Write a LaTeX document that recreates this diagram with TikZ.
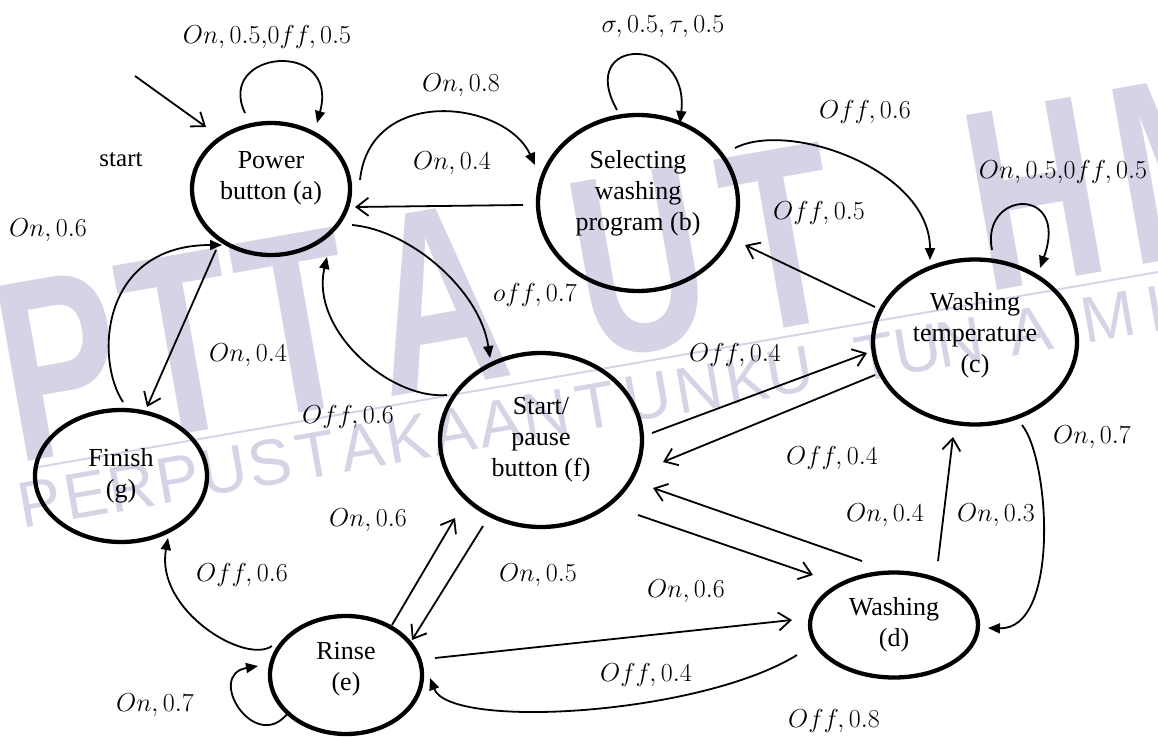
\documentclass[tikz,border=0pt]{standalone}
\usepackage{fix-cm}
\usepackage{fontspec}
\setmainfont{Liberation Serif}
\newfontfamily\nodefont{Liberation Serif}
\newfontfamily\wmfont{Liberation Sans}
\usetikzlibrary{shapes.geometric,arrows.meta,calc}
\definecolor{wmcol}{RGB}{213,212,231}
\tikzset{
  stnode/.style={draw, ellipse, line width=4.3pt, inner sep=0pt, outer sep=0pt},
  ntext/.style={align=center, font=\nodefont\fontsize{26}{31}\selectfont, inner sep=0pt},
  lab/.style={font=\fontsize{26}{30}\selectfont, inner sep=0pt},
  conn/.style={line width=1.8pt},
  fa/.style={conn, -{Triangle[length=12pt,width=10pt]}},
  oa/.style={conn, -{Straight Barb[length=12pt,width=18pt]}},
  wmbig/.style={text=wmcol, font=\wmfont\bfseries\fontsize{258}{258}\selectfont, rotate=10, xscale=0.7, inner sep=0pt},
  wmsmall/.style={text=wmcol, font=\wmfont\fontsize{65}{65}\selectfont, rotate=10, inner sep=0pt},
}
\begin{document}
\begin{tikzpicture}[x=1pt,y=-1pt]
\useasboundingbox (0,0) rectangle (1158,738);
% watermark
\begin{scope}
\clip (0,0) rectangle (1158,738);
\foreach \ch/\px/\py [count=\i] in {P/60/366, T/180/345, T/296/324, A/436/299, U/640/263, T/781/239, H/1034/194, M/1190/166}
  \node[wmbig] (wb\i) at (\px,\py) {\ch};
\coordinate (wl0) at (33,468);
\coordinate (wl1) at (1158,272);
\draw[wmcol, line width=2pt] (wl0) -- (wl1);
\foreach \ch/\px [count=\i] in {P/40, E/86, R/132, P/178, U/224, S/270, T/316, A/362, K/408, A/454, A/500, N/546, T/596, U/648, N/699, K/747, U/790, T/875, U/918, N/960, A/1030, M/1108, I/1155}
  \node[wmsmall] (ws\i) at (\px,{510-0.1745*\px}) {\ch};
\end{scope}
% states
\node[stnode, minimum width=158pt, minimum height=132pt] (a) at (271,189) {};
\node[stnode, minimum width=200pt, minimum height=176pt] (b) at (638,203) {};
\node[stnode, minimum width=204pt, minimum height=165pt] (c) at (975,342) {};
\node[stnode, minimum width=168pt, minimum height=105pt] (d) at (894,625) {};
\node[stnode, minimum width=152pt, minimum height=118pt] (e) at (346,675) {};
\node[stnode, minimum width=202pt, minimum height=174pt] (f) at (541,440) {};
\node[stnode, minimum width=172pt, minimum height=132pt] (g) at (121,476) {};
\node[ntext] (ta) at ($(a)+(0,-11)$) {Power\\button (a)};
\node[ntext] (tb) at ($(b)+(0,-10)$) {Selecting\\washing\\program (b)};
\node[ntext] (tc) at ($(c)+(0,-7)$) {Washing\\temperature\\(c)};
\node[ntext] (td) at (d) {Washing\\(d)};
\node[ntext] (te) at ($(e)+(0,-6)$) {Rinse\\(e)};
\node[ntext] (tf) at (f) {Start/\\pause\\button (f)};
\node[ntext] (tg) at (g) {Finish\\(g)};
\node[font=\nodefont\fontsize{25}{30}\selectfont, inner sep=0pt] (st) at (121,160) {start};
% connectors
\coordinate (s0) at (135,76);
\draw[oa] (s0) -- ($(a)+(-65,-62)$);
\draw[fa] ($(a)+(-26,-76)$) .. controls +(-30,-63) and +(23,-85) .. ($(a)+(46,-66)$);
\draw[fa] ($(a)+(89,-9)$) .. controls +(10,-95) and +(-30,-65) .. ($(b)+(-103,-38)$);
\draw[oa] ($(b)+(-115,2)$) -- ($(a)+(84,18)$);
\draw[fa] ($(b)+(-21,-93)$) .. controls +(-42,-75) and +(10,-88) .. ($(b)+(42,-80)$);
\draw[fa] ($(b)+(97,-55)$) .. controls +(55,-28) and +(0,-90) .. ($(c)+(-45,-82)$);
\draw[oa] ($(c)+(-100,-35)$) -- ($(b)+(107,42)$);
\draw[fa] ($(c)+(17,-92)$) .. controls +(-12,-60) and +(30,-83) .. ($(c)+(65,-74)$);
\draw[fa] ($(a)+(81,36)$) .. controls +(58,5) and +(-10,-68) .. ($(f)+(-51,-82)$);
\draw[fa] ($(f)+(-94,-45)$) .. controls +(-57,5) and +(-17,73) .. ($(a)+(56,68)$);
\draw[oa] ($(a)+(-55,61)$) -- ($(g)+(26,-69)$);
\draw[fa] ($(g)+(2,-74)$) .. controls +(-28,-42) and +(-122,0) .. ($(a)+(-49,56)$);
\draw[oa] ($(f)+(111,-7)$) -- ($(c)+(-108,11)$);
\draw[oa] ($(c)+(-100,33)$) -- ($(f)+(122,22)$);
\draw[oa] ($(f)+(97,75)$) -- ($(d)+(-81,-50)$);
\draw[oa] ($(d)+(-32,-64)$) -- ($(f)+(112,48)$);
\draw[fa] ($(c)+(47,83)$) .. controls +(28,35) and +(72,2) .. ($(d)+(94,3)$);
\draw[oa] ($(d)+(44,-64)$) -- ($(c)+(-22,95)$);
\draw[oa] ($(e)+(46,-50)$) -- ($(f)+(-86,78)$);
\draw[oa] ($(f)+(-58,86)$) -- ($(e)+(66,-35)$);
\draw[oa] ($(e)+(89,-17)$) -- ($(d)+(-102,-5)$);
\draw[fa] ($(d)+(-97,30)$) .. controls +(-97,60) and +(20,52) .. ($(e)+(84,3)$);
\draw[fa] ($(e)+(-74,-29)$) .. controls +(-27,19) and +(-13,72) .. ($(g)+(47,62)$);
\draw[fa] ($(e)+(-58,38)$) .. controls +(-33,42) and +(-53,9) .. ($(e)+(-88,-9)$);
% labels
\node[lab] (l1) at (267,37) {$On, 0.5{,}0ff, 0.5$};
\node[lab] (l2) at (461,85) {$On, 0.8$};
\node[lab] (l3) at (452,163) {$On, 0.4$};
\node[lab] (l4) at (663,27) {$\sigma, 0.5, \tau, 0.5$};
\node[lab] (l5) at (865,112) {$Off, 0.6$};
\node[lab] (l6) at (819,213) {$Off, 0.5$};
\node[lab] (l7) at (1063,172) {$On, 0.5{,}0ff, 0.5$};
\node[lab] (l8) at (48,230) {$On, 0.6$};
\node[lab] (l9) at (248,355) {$On, 0.4$};
\node[lab] (l10) at (535,295) {$off, 0.7$};
\node[lab] (l11) at (348,417) {$Off, 0.6$};
\node[lab] (l12) at (735,355) {$Off, 0.4$};
\node[lab] (l13) at (832,458) {$Off, 0.4$};
\node[lab] (l14) at (1092,437) {$On, 0.7$};
\node[lab] (l15) at (885,515) {$On, 0.4$};
\node[lab] (l16) at (996,515) {$On, 0.3$};
\node[lab] (l17) at (368,520) {$On, 0.6$};
\node[lab] (l18) at (538,575) {$On, 0.5$};
\node[lab] (l19) at (686,591) {$On, 0.6$};
\node[lab] (l20) at (242,575) {$Off, 0.6$};
\node[lab] (l21) at (646,675) {$Off, 0.4$};
\node[lab] (l22) at (834,721) {$Off, 0.8$};
\node[lab] (l23) at (155,705) {$On, 0.7$};
\end{tikzpicture}
\end{document}
